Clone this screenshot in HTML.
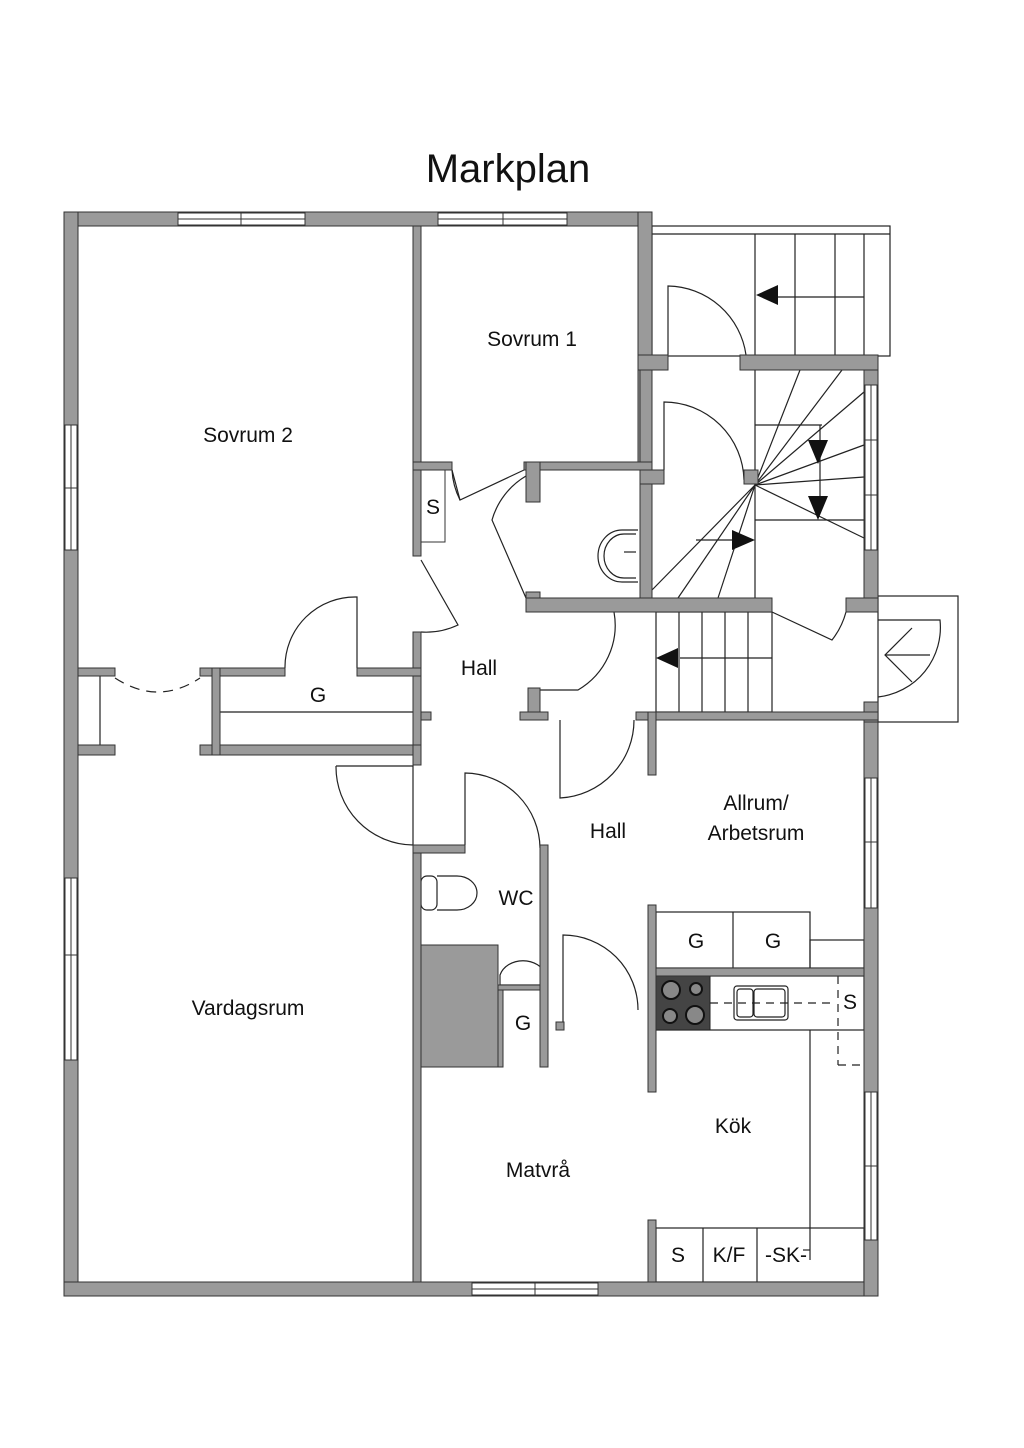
<!DOCTYPE html>
<html><head><meta charset="utf-8"><style>
html,body{margin:0;padding:0;background:#fff;}
svg{display:block;}
text{font-family:"Liberation Sans",sans-serif;fill:#111;}
</style></head><body>
<svg width="1024" height="1448" viewBox="0 0 1024 1448" xmlns="http://www.w3.org/2000/svg">
<text x="508" y="182" font-size="40" text-anchor="middle">Markplan</text>

<g fill="none" stroke="#222" stroke-width="1.2">
  <rect x="652" y="226" width="238" height="130"/>
  <line x1="652" y1="234" x2="890" y2="234"/>
  <line x1="755" y1="234" x2="755" y2="355"/>
  <line x1="795" y1="234" x2="795" y2="355"/>
  <line x1="835" y1="234" x2="835" y2="355"/>
  <line x1="864" y1="234" x2="864" y2="355"/>
  <line x1="775" y1="297" x2="864" y2="297"/>
  <path d="M668 355 V286 A80 80 0 0 1 746 355"/>
  <line x1="755" y1="370" x2="755" y2="598"/>
  <line x1="755" y1="425" x2="822" y2="425"/>
  <line x1="755" y1="520" x2="864" y2="520"/>
  <line x1="820" y1="425" x2="820" y2="510"/>
  <line x1="696" y1="540" x2="740" y2="540"/>
  <line x1="755" y1="485" x2="800" y2="370"/>
  <line x1="755" y1="485" x2="842" y2="370"/>
  <line x1="755" y1="485" x2="864" y2="392"/>
  <line x1="755" y1="485" x2="864" y2="445"/>
  <line x1="755" y1="485" x2="864" y2="477"/>
  <line x1="755" y1="485" x2="864" y2="538"/>
  <line x1="755" y1="485" x2="652" y2="590"/>
  <line x1="755" y1="485" x2="678" y2="598"/>
  <line x1="755" y1="485" x2="718" y2="598"/>
  <path d="M664 470 V402 A80 80 0 0 1 744 480"/>
  <rect x="656" y="612" width="116" height="100"/>
  <line x1="679" y1="612" x2="679" y2="712"/>
  <line x1="702" y1="612" x2="702" y2="712"/>
  <line x1="725" y1="612" x2="725" y2="712"/>
  <line x1="748" y1="612" x2="748" y2="712"/>
  <line x1="680" y1="658" x2="772" y2="658"/>
  <path d="M772 612 L832 640 A78 78 0 0 0 846 612"/>
  <rect x="878" y="596" width="80" height="126"/>
  <path d="M878 697 A70 70 0 0 0 940 620 H878"/>
  <polyline points="912,628 885,655 912,682"/>
  <line x1="885" y1="655" x2="930" y2="655"/>
  <path d="M452 470 L460 500 L524 470"/>
  <path d="M452 470 A75 75 0 0 0 460 500"/>
  <path d="M526 476 A75 75 0 0 0 492 520 L526 598"/>
  <path d="M421 560 L458 625 A75 75 0 0 1 421 632"/>
  <path d="M638 530 H622 A24 26 0 0 0 622 582 H638"/>
  <path d="M636 534 H624 A20 22 0 0 0 624 578 H636"/>
  <line x1="624" y1="552" x2="636" y2="552"/>
  <path d="M540 690 H578 A75 75 0 0 0 614 612"/>
  <path d="M560 720 V798 A78 78 0 0 0 634 720"/>
  <path d="M285 668 A70 70 0 0 1 357 597 V668"/>
  <line x1="220" y1="712" x2="413" y2="712"/>
  <line x1="100" y1="676" x2="100" y2="745"/>
  <path d="M115 678 Q158 706 200 678" stroke-dasharray="10 7"/>
  <path d="M336 766 H413 V845 A78 78 0 0 1 336 766"/>
  <path d="M465 845 V773 A76 76 0 0 1 540 848"/>
  <rect x="421" y="876" width="16" height="34" rx="6"/>
  <path d="M437 876 H457 A20 17 0 0 1 457 910 H437"/>
  <path d="M500 975 A24 20 0 0 1 546 975 V985 H500 Z"/>
  <path d="M563 1030 V935 A75 75 0 0 1 638 1010"/>
  <rect x="656" y="912" width="154" height="56"/>
  <line x1="733" y1="912" x2="733" y2="968"/>
  <rect x="810" y="940" width="54" height="28"/>
  <rect x="656" y="976" width="208" height="54"/>
  <line x1="810" y1="1030" x2="810" y2="1260"/>
  <rect x="656" y="1228" width="208" height="54"/>
  <line x1="703" y1="1228" x2="703" y2="1282"/>
  <line x1="757" y1="1228" x2="757" y2="1282"/>
  <rect x="734" y="986" width="54" height="34" rx="3"/>
  <rect x="754" y="989" width="31" height="28" rx="3"/>
  <rect x="737" y="989" width="16" height="28" rx="3"/>
  <line x1="710" y1="1003" x2="835" y2="1003" stroke-dasharray="8 6"/>
  <line x1="838" y1="976" x2="838" y2="1065" stroke-dasharray="8 6"/>
  <line x1="838" y1="1065" x2="864" y2="1065" stroke-dasharray="8 6"/>
  <line x1="810" y1="1250" x2="803" y2="1250"/>
</g>

<rect x="656" y="976" width="54" height="54" fill="#444" stroke="#222"/>
<g fill="#888" stroke="#111" stroke-width="2">
  <circle cx="671" cy="990" r="9"/><circle cx="696" cy="989" r="6"/>
  <circle cx="670" cy="1016" r="7"/><circle cx="695" cy="1015" r="9"/>
</g>

<g fill="#111">
  <polygon points="756,295 778,285 778,305"/>
  <polygon points="808,440 828,440 818,464"/>
  <polygon points="808,496 828,496 818,520"/>
  <polygon points="755,540 732,530 732,550"/>
  <polygon points="656,658 678,648 678,668"/>
</g>

<g fill="#9a9a9a" stroke="#333" stroke-width="1">
  <rect x="64" y="212" width="588" height="14"/>
  <rect x="64" y="212" width="14" height="1084"/>
  <rect x="64" y="1282" width="814" height="14"/>
  <rect x="864" y="718" width="14" height="578"/>
  <rect x="864" y="355" width="14" height="254"/>
  <rect x="864" y="702" width="14" height="20"/>
  <rect x="638" y="212" width="14" height="258"/>
  <rect x="638" y="355" width="30" height="15"/>
  <rect x="740" y="355" width="138" height="15"/>
  <rect x="640" y="370" width="12" height="228"/>
  <rect x="640" y="470" width="24" height="14"/>
  <rect x="744" y="470" width="14" height="14"/>
  <rect x="413" y="226" width="8" height="330"/>
  <rect x="413" y="462" width="39" height="8"/>
  <rect x="524" y="462" width="128" height="8"/>
  <rect x="526" y="462" width="14" height="40"/>
  <rect x="526" y="592" width="14" height="20"/>
  <rect x="526" y="598" width="246" height="14"/>
  <rect x="846" y="598" width="32" height="14"/>
  <rect x="636" y="712" width="242" height="8"/>
  <rect x="648" y="712" width="8" height="63"/>
  <rect x="413" y="632" width="8" height="118"/>
  <rect x="421" y="712" width="10" height="8"/>
  <rect x="528" y="688" width="12" height="32"/>
  <rect x="520" y="712" width="28" height="8"/>
  <rect x="78" y="668" width="37" height="8"/>
  <rect x="78" y="745" width="37" height="10"/>
  <rect x="200" y="668" width="85" height="8"/>
  <rect x="357" y="668" width="64" height="8"/>
  <rect x="200" y="745" width="221" height="10"/>
  <rect x="212" y="668" width="8" height="87"/>
  <rect x="413" y="745" width="8" height="20"/>
  <rect x="413" y="845" width="8" height="437"/>
  <rect x="413" y="845" width="52" height="8"/>
  <rect x="540" y="845" width="8" height="222"/>
  <rect x="421" y="945" width="77" height="122"/>
  <rect x="498" y="985" width="42" height="5"/>
  <rect x="498" y="990" width="5" height="77"/>
  <rect x="556" y="1022" width="8" height="8"/>
  <rect x="648" y="905" width="8" height="187"/>
  <rect x="656" y="968" width="208" height="8"/>
  <rect x="648" y="1220" width="8" height="62"/>
</g>

<g fill="#fff" stroke="#333" stroke-width="1">
  <rect x="178" y="213" width="127" height="12"/>
  <line x1="178" y1="219" x2="305" y2="219"/><line x1="241" y1="213" x2="241" y2="225"/>
  <rect x="438" y="213" width="129" height="12"/>
  <line x1="438" y1="219" x2="567" y2="219"/><line x1="503" y1="213" x2="503" y2="225"/>
  <rect x="65" y="425" width="12" height="125"/>
  <line x1="71" y1="425" x2="71" y2="550"/><line x1="65" y1="488" x2="77" y2="488"/>
  <rect x="65" y="878" width="12" height="182"/>
  <line x1="71" y1="878" x2="71" y2="1060"/><line x1="65" y1="955" x2="77" y2="955"/>
  <rect x="472" y="1283" width="126" height="12"/>
  <line x1="472" y1="1289" x2="598" y2="1289"/><line x1="535" y1="1283" x2="535" y2="1295"/>
  <rect x="865" y="778" width="12" height="130"/>
  <line x1="871" y1="778" x2="871" y2="908"/><line x1="865" y1="842" x2="877" y2="842"/>
  <rect x="865" y="1092" width="12" height="148"/>
  <line x1="871" y1="1092" x2="871" y2="1240"/><line x1="865" y1="1166" x2="877" y2="1166"/>
  <rect x="865" y="385" width="12" height="165"/>
  <line x1="871" y1="385" x2="871" y2="550"/><line x1="865" y1="440" x2="877" y2="440"/><line x1="865" y1="495" x2="877" y2="495"/>
</g>
<rect x="421" y="470" width="24" height="72" fill="#fff" stroke="#333"/>

<g font-size="21" text-anchor="middle">
  <text x="532" y="346">Sovrum 1</text>
  <text x="248" y="442">Sovrum 2</text>
  <text x="433" y="514">S</text>
  <text x="479" y="675">Hall</text>
  <text x="318" y="702">G</text>
  <text x="608" y="838">Hall</text>
  <text x="756" y="810">Allrum/</text>
  <text x="756" y="840">Arbetsrum</text>
  <text x="516" y="905">WC</text>
  <text x="523" y="1030">G</text>
  <text x="696" y="948">G</text>
  <text x="773" y="948">G</text>
  <text x="850" y="1009">S</text>
  <text x="248" y="1015">Vardagsrum</text>
  <text x="733" y="1133">Kök</text>
  <text x="538" y="1177">Matvrå</text>
  <text x="678" y="1262">S</text>
  <text x="729" y="1262">K/F</text>
  <text x="786" y="1262">-SK-</text>
</g>
</svg>
</body></html>
